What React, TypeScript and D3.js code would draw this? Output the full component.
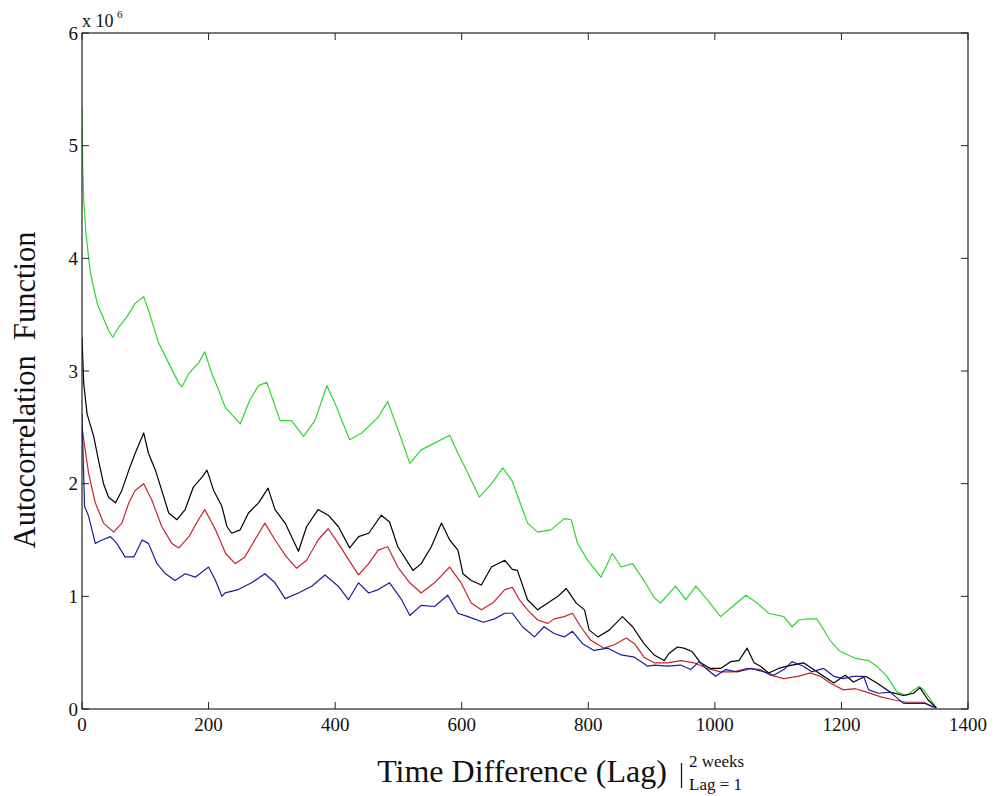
import React from "react";
import * as d3 from "d3";

type P = [number, number];

const xTicks = [0, 200, 400, 600, 800, 1000, 1200, 1400];
const yTicks = [0, 1, 2, 3, 4, 5, 6];

const greenSeries: P[] = [[0,5.35],[1,4.85],[2.7,4.52],[6.3,4.22],[13,3.88],[24,3.60],[42,3.36],[48.5,3.30],[58,3.39],[71,3.48],[84,3.60],[97.5,3.66],[105,3.54],[121,3.25],[137,3.07],[153,2.89],[158,2.86],[169,2.98],[184,3.07],[194,3.17],[205,2.98],[216,2.83],[226,2.68],[250,2.53],[265,2.74],[279,2.87],[292,2.90],[313,2.56],[331,2.56],[350,2.42],[368,2.56],[387,2.87],[400,2.71],[423,2.39],[442,2.45],[455,2.52],[468,2.59],[483,2.73],[505,2.39],[518,2.18],[536,2.30],[557,2.36],[581,2.43],[594,2.27],[610,2.09],[628,1.88],[647,2.00],[665,2.14],[680,2.02],[691,1.85],[704,1.65],[720,1.57],[741,1.59],[762,1.69],[773,1.68],[783,1.47],[799,1.32],[820,1.17],[838,1.38],[852,1.26],[870,1.29],[888,1.14],[904,0.99],[914,0.94],[938,1.09],[954,0.97],[970,1.09],[988,0.97],[1009,0.82],[1028,0.91],[1049,1.01],[1067,0.94],[1085,0.85],[1109,0.82],[1122,0.73],[1133,0.79],[1146,0.80],[1161,0.80],[1169,0.73],[1182,0.61],[1196,0.52],[1206,0.49],[1222,0.45],[1243,0.43],[1256,0.38],[1272,0.29],[1288,0.15],[1303,0.12],[1322,0.20],[1330,0.17],[1340,0.09],[1350,0.01]];

const blackSeries: P[] = [[0,3.3],[2.7,2.89],[8,2.62],[18.5,2.42],[26,2.21],[34,2.00],[42,1.88],[53,1.83],[63,1.94],[74,2.12],[84,2.27],[97.5,2.45],[105,2.27],[116,2.12],[126,1.94],[137,1.74],[150,1.68],[163,1.77],[176,1.97],[190,2.06],[197.5,2.12],[208,1.94],[221,1.80],[229,1.62],[236.5,1.56],[250,1.59],[263,1.74],[279,1.83],[294,1.96],[305,1.77],[321,1.65],[342,1.40],[355,1.62],[373,1.77],[389,1.72],[405,1.62],[423,1.43],[437,1.53],[453,1.56],[473,1.72],[486,1.66],[499,1.44],[523,1.23],[536,1.29],[552,1.44],[568,1.65],[581,1.50],[594,1.41],[602,1.20],[615,1.14],[631,1.10],[647,1.26],[668,1.32],[680,1.24],[688,1.23],[704,0.97],[720,0.88],[736,0.94],[752,1.00],[765,1.07],[781,0.94],[794,0.88],[801.5,0.70],[815,0.64],[833,0.70],[854,0.82],[870,0.73],[888,0.58],[904,0.48],[920,0.43],[927,0.49],[941,0.55],[951,0.54],[964,0.51],[977.5,0.41],[993,0.36],[1009,0.36],[1025,0.42],[1038,0.43],[1051,0.54],[1062,0.41],[1072,0.38],[1085,0.32],[1101,0.36],[1114,0.38],[1132,0.40],[1140,0.41],[1156,0.35],[1172,0.29],[1188,0.23],[1206,0.30],[1219,0.24],[1238,0.29],[1256,0.23],[1277,0.15],[1298,0.12],[1314,0.14],[1324,0.19],[1337,0.08],[1350,0.01]];

const redSeries: P[] = [[0,2.5],[2.7,2.39],[10.5,2.09],[21,1.83],[34,1.65],[50,1.57],[63,1.65],[74,1.83],[84,1.94],[97.5,2.00],[110.6,1.85],[126,1.62],[142,1.47],[153,1.43],[169,1.53],[184,1.68],[194,1.77],[211,1.59],[227,1.38],[242,1.29],[257.5,1.35],[273,1.50],[289,1.65],[305,1.50],[323,1.35],[339,1.25],[355,1.32],[373,1.50],[389,1.60],[405,1.47],[423,1.31],[437,1.19],[453,1.29],[468,1.41],[483,1.44],[499,1.26],[518,1.12],[536,1.03],[557,1.12],[581,1.26],[599,1.12],[615,0.94],[631,0.88],[649,0.94],[668,1.06],[680,1.08],[691,0.97],[704,0.88],[720,0.79],[736,0.76],[746,0.80],[762,0.82],[775,0.85],[788,0.73],[804,0.61],[825,0.54],[841,0.57],[860,0.63],[873,0.58],[888,0.46],[904,0.41],[925,0.41],[946,0.43],[967,0.41],[988,0.36],[1009,0.33],[1030,0.33],[1051,0.36],[1072,0.35],[1088,0.30],[1109,0.27],[1131,0.29],[1151,0.32],[1167,0.29],[1182,0.23],[1203,0.17],[1222,0.18],[1240,0.15],[1261,0.11],[1283,0.08],[1303,0.06],[1330,0.06],[1343,0.02],[1350,0.01]];

const blueSeries: P[] = [[0,2.62],[4,1.80],[10.5,1.71],[21,1.47],[31.6,1.50],[45,1.53],[55,1.47],[68,1.35],[82,1.35],[95,1.50],[105,1.47],[118.5,1.29],[132,1.20],[147,1.14],[163,1.20],[179,1.17],[200,1.26],[211,1.14],[221,1.00],[226,1.03],[247,1.06],[268,1.12],[289,1.20],[305,1.12],[321,0.98],[342,1.03],[363,1.09],[384,1.19],[405,1.09],[421,0.97],[437,1.12],[453,1.03],[468,1.06],[486,1.12],[505,0.97],[518,0.83],[536,0.92],[557,0.91],[578,1.01],[594,0.85],[610,0.82],[634,0.77],[652,0.80],[668,0.85],[680,0.85],[696,0.73],[715,0.64],[730,0.73],[746,0.67],[762,0.64],[775,0.69],[791,0.58],[809,0.52],[831,0.54],[852,0.48],[873,0.46],[894,0.38],[905,0.39],[925,0.38],[946,0.39],[962,0.35],[975,0.42],[988,0.35],[1001,0.29],[1017,0.35],[1035,0.33],[1057,0.36],[1078,0.33],[1093,0.30],[1109,0.35],[1122,0.42],[1131,0.40],[1140,0.38],[1153,0.33],[1172,0.36],[1188,0.29],[1203,0.27],[1219,0.29],[1235,0.29],[1243,0.17],[1259,0.14],[1277,0.15],[1298,0.05],[1319,0.05],[1332,0.05],[1350,0.01]];

const seriesList: { data: P[]; color: string }[] = [
  { data: greenSeries, color: "#2ed62e" },
  { data: blackSeries, color: "#000000" },
  { data: redSeries, color: "#c0272d" },
  { data: blueSeries, color: "#1c1c9a" },
];

const FONT = "'Liberation Serif', 'Times New Roman', serif";

export default function App() {
  const L = 82, R = 968, T = 33, B = 709;
  const x = d3.scaleLinear().domain([0, 1400]).range([L, R]);
  const y = d3.scaleLinear().domain([0, 6]).range([B, T]);
  const line = d3.line<P>().x((d) => x(d[0])).y((d) => y(d[1]));
  const tl = 7;

  return (
    <svg width={998} height={796} style={{ position: "absolute", left: 0, top: 0, background: "#fff" }} fontFamily={FONT}>
      <rect x={0} y={0} width={998} height={796} fill="#fff" />
      <defs>
        <clipPath id="clip">
          <rect x={L} y={T} width={R - L} height={B - T} />
        </clipPath>
      </defs>
      <g clipPath="url(#clip)">
        {seriesList.map((s, i) => (
          <path key={i} d={line(s.data) || ""} fill="none" stroke={s.color} strokeWidth={1.2} strokeLinejoin="round" />
        ))}
      </g>
      <rect x={L} y={T} width={R - L} height={B - T} fill="none" stroke="#222" strokeWidth={1.2} />
      {xTicks.map((t) => (
        <g key={"x" + t}>
          <line x1={x(t)} x2={x(t)} y1={B} y2={B - tl} stroke="#222" />
          <line x1={x(t)} x2={x(t)} y1={T} y2={T + tl} stroke="#222" />
          <text x={x(t)} y={731} fontSize={19} textAnchor="middle" fill="#111">{t}</text>
        </g>
      ))}
      {yTicks.map((t) => (
        <g key={"y" + t}>
          <line x1={L} x2={L + tl} y1={y(t)} y2={y(t)} stroke="#222" />
          <line x1={R} x2={R - tl} y1={y(t)} y2={y(t)} stroke="#222" />
          <text x={78} y={y(t) + 6.5} fontSize={19} textAnchor="end" fill="#111">{t}</text>
        </g>
      ))}
      <text x={82} y={27} fontSize={18} fill="#111">x 10</text>
      <text x={117} y={18} fontSize={11} fill="#111">6</text>
      <text x={0} y={0} fontSize={30.5} fill="#111" textAnchor="middle" transform="translate(35,390) rotate(-90)" style={{ whiteSpace: "pre" }}>
        {"Autocorrelation\u00a0 Function"}
      </text>
      <text x={522} y={782} fontSize={32} textAnchor="middle" fill="#111">Time Difference (Lag)</text>
      <line x1={681.5} x2={681.5} y1={763} y2={788} stroke="#222" strokeWidth={1.3} />
      <text x={689} y={767} fontSize={17} fill="#111">2 weeks</text>
      <text x={689} y={790} fontSize={17} fill="#111">Lag = 1</text>
    </svg>
  );
}
